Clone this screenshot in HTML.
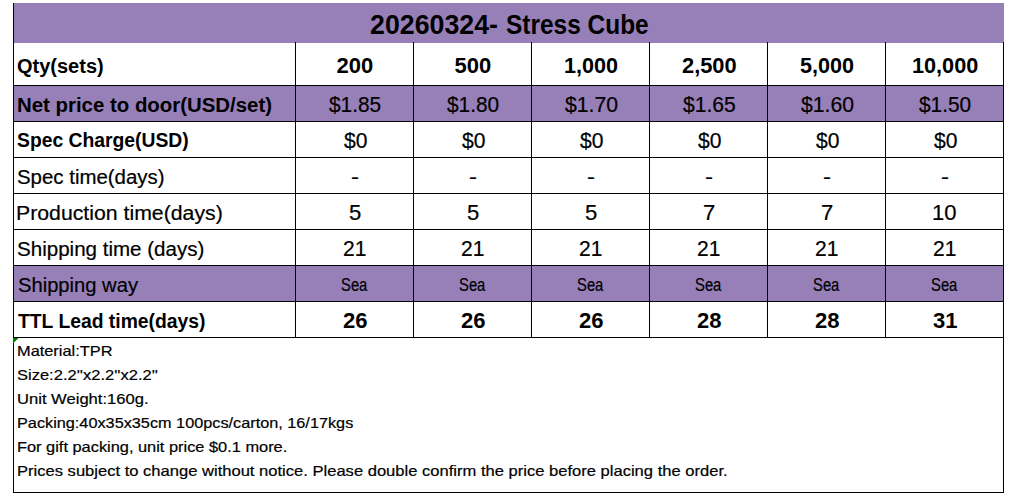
<!DOCTYPE html>
<html><head><meta charset="utf-8"><style>
html,body{margin:0;padding:0;background:#fff;width:1009px;height:497px;overflow:hidden;position:relative}
div{position:absolute}
.t{font-family:"Liberation Sans",sans-serif;color:#000;white-space:pre}
.r{-webkit-text-stroke:0.2px #000}
</style></head><body>
<div style="left:13px;top:3px;width:991px;height:40px;background:#977fb8"></div>
<div style="left:13px;top:86px;width:991px;height:35px;background:#977fb8"></div>
<div style="left:13px;top:266px;width:991px;height:35px;background:#977fb8"></div>
<div style="left:13px;top:85px;width:991px;height:1px;background:#000"></div>
<div style="left:13px;top:121px;width:991px;height:1px;background:#000"></div>
<div style="left:13px;top:157px;width:991px;height:1px;background:#000"></div>
<div style="left:13px;top:193px;width:991px;height:1px;background:#000"></div>
<div style="left:13px;top:229px;width:991px;height:1px;background:#000"></div>
<div style="left:13px;top:265px;width:991px;height:1px;background:#000"></div>
<div style="left:13px;top:301px;width:991px;height:1px;background:#000"></div>
<div style="left:13px;top:337px;width:991px;height:1px;background:#000"></div>
<div style="left:13px;top:492px;width:991px;height:1px;background:#000"></div>
<div style="left:13px;top:3px;width:1px;height:490px;background:#000"></div>
<div style="left:1003px;top:42px;width:1px;height:451px;background:#000"></div>
<div style="left:295px;top:42px;width:1px;height:296px;background:#000"></div>
<div style="left:413px;top:42px;width:1px;height:296px;background:#000"></div>
<div style="left:531px;top:42px;width:1px;height:296px;background:#000"></div>
<div style="left:649px;top:42px;width:1px;height:296px;background:#000"></div>
<div style="left:767px;top:42px;width:1px;height:296px;background:#000"></div>
<div style="left:885px;top:42px;width:1px;height:296px;background:#000"></div>
<div class="t" style="left:370.00px;top:12.14px;font-size:27px;line-height:27px;font-weight:700;transform:scaleX(0.9907);transform-origin:0 0;">20260324-</div>
<div class="t" style="left:505.53px;top:12.14px;font-size:27px;line-height:27px;font-weight:700;transform:scaleX(0.9057);transform-origin:0 0;">Stress Cube</div>
<div class="t" style="left:17.00px;top:55.97px;font-size:20px;line-height:20px;font-weight:700;">Qty(sets)</div>
<div class="t" style="left:16.98px;top:94.97px;font-size:20px;line-height:20px;font-weight:700;transform:scaleX(1.0201);transform-origin:0 0;">Net price to door(USD/set)</div>
<div class="t" style="left:16.52px;top:129.97px;font-size:20px;line-height:20px;font-weight:700;transform:scaleX(0.9659);transform-origin:0 0;">Spec Charge(USD)</div>
<div class="t r" style="left:16.98px;top:166.97px;font-size:20px;line-height:20px;font-weight:400;transform:scaleX(1.0211);transform-origin:0 0;">Spec time(days)</div>
<div class="t r" style="left:15.87px;top:202.97px;font-size:20px;line-height:20px;font-weight:400;transform:scaleX(1.0628);transform-origin:0 0;">Production time(days)</div>
<div class="t r" style="left:16.97px;top:238.97px;font-size:20px;line-height:20px;font-weight:400;transform:scaleX(1.0278);transform-origin:0 0;">Shipping time (days)</div>
<div class="t r" style="left:18.00px;top:274.97px;font-size:20px;line-height:20px;font-weight:400;transform:scaleX(1.0084);transform-origin:0 0;">Shipping way</div>
<div class="t" style="left:18.00px;top:310.97px;font-size:20px;line-height:20px;font-weight:700;transform:scaleX(0.9658);transform-origin:0 0;">TTL Lead time(days)</div>
<div class="t" style="left:336.50px;top:54.88px;font-size:22px;line-height:22px;font-weight:700;">200</div>
<div class="t" style="left:454.50px;top:54.88px;font-size:22px;line-height:22px;font-weight:700;">500</div>
<div class="t" style="left:564.02px;top:54.88px;font-size:22px;line-height:22px;font-weight:700;transform:scaleX(0.9811);transform-origin:0 0;">1,000</div>
<div class="t" style="left:681.99px;top:54.88px;font-size:22px;line-height:22px;font-weight:700;transform:scaleX(0.9929);transform-origin:0 0;">2,500</div>
<div class="t" style="left:800.02px;top:54.88px;font-size:22px;line-height:22px;font-weight:700;transform:scaleX(0.9811);transform-origin:0 0;">5,000</div>
<div class="t" style="left:912.02px;top:54.88px;font-size:22px;line-height:22px;font-weight:700;transform:scaleX(0.9846);transform-origin:0 0;">10,000</div>
<div class="t r" style="left:328.93px;top:93.88px;font-size:22px;line-height:22px;font-weight:400;transform:scaleX(0.9468);transform-origin:0 0;">$1.85</div>
<div class="t r" style="left:446.93px;top:93.88px;font-size:22px;line-height:22px;font-weight:400;transform:scaleX(0.9468);transform-origin:0 0;">$1.80</div>
<div class="t r" style="left:564.73px;top:93.88px;font-size:22px;line-height:22px;font-weight:400;transform:scaleX(0.9638);transform-origin:0 0;">$1.70</div>
<div class="t r" style="left:682.97px;top:93.88px;font-size:22px;line-height:22px;font-weight:400;transform:scaleX(0.9578);transform-origin:0 0;">$1.65</div>
<div class="t r" style="left:800.73px;top:93.88px;font-size:22px;line-height:22px;font-weight:400;transform:scaleX(0.9638);transform-origin:0 0;">$1.60</div>
<div class="t r" style="left:918.93px;top:93.88px;font-size:22px;line-height:22px;font-weight:400;transform:scaleX(0.9468);transform-origin:0 0;">$1.50</div>
<div class="t r" style="left:343.50px;top:129.88px;font-size:22px;line-height:22px;font-weight:400;transform:scaleX(0.9583);transform-origin:0 0;">$0</div>
<div class="t r" style="left:461.50px;top:129.88px;font-size:22px;line-height:22px;font-weight:400;transform:scaleX(0.9583);transform-origin:0 0;">$0</div>
<div class="t r" style="left:579.50px;top:129.88px;font-size:22px;line-height:22px;font-weight:400;transform:scaleX(0.9583);transform-origin:0 0;">$0</div>
<div class="t r" style="left:697.50px;top:129.88px;font-size:22px;line-height:22px;font-weight:400;transform:scaleX(0.9583);transform-origin:0 0;">$0</div>
<div class="t r" style="left:815.50px;top:129.88px;font-size:22px;line-height:22px;font-weight:400;transform:scaleX(0.9583);transform-origin:0 0;">$0</div>
<div class="t r" style="left:933.50px;top:129.88px;font-size:22px;line-height:22px;font-weight:400;transform:scaleX(0.9583);transform-origin:0 0;">$0</div>
<div class="t r" style="left:350.76px;top:166.57px;font-size:20px;line-height:20px;font-weight:400;transform:scaleX(1.2000);transform-origin:0 0;">-</div>
<div class="t r" style="left:468.76px;top:166.57px;font-size:20px;line-height:20px;font-weight:400;transform:scaleX(1.2000);transform-origin:0 0;">-</div>
<div class="t r" style="left:586.76px;top:166.57px;font-size:20px;line-height:20px;font-weight:400;transform:scaleX(1.2000);transform-origin:0 0;">-</div>
<div class="t r" style="left:704.76px;top:166.57px;font-size:20px;line-height:20px;font-weight:400;transform:scaleX(1.2000);transform-origin:0 0;">-</div>
<div class="t r" style="left:822.76px;top:166.57px;font-size:20px;line-height:20px;font-weight:400;transform:scaleX(1.2000);transform-origin:0 0;">-</div>
<div class="t r" style="left:940.76px;top:166.57px;font-size:20px;line-height:20px;font-weight:400;transform:scaleX(1.2000);transform-origin:0 0;">-</div>
<div class="t r" style="left:348.70px;top:201.88px;font-size:22px;line-height:22px;font-weight:400;transform:scaleX(1.0046);transform-origin:0 0;">5</div>
<div class="t r" style="left:466.70px;top:201.88px;font-size:22px;line-height:22px;font-weight:400;transform:scaleX(1.0046);transform-origin:0 0;">5</div>
<div class="t r" style="left:584.70px;top:201.88px;font-size:22px;line-height:22px;font-weight:400;transform:scaleX(1.0046);transform-origin:0 0;">5</div>
<div class="t r" style="left:702.69px;top:201.88px;font-size:22px;line-height:22px;font-weight:400;transform:scaleX(1.0046);transform-origin:0 0;">7</div>
<div class="t r" style="left:820.69px;top:201.88px;font-size:22px;line-height:22px;font-weight:400;transform:scaleX(1.0046);transform-origin:0 0;">7</div>
<div class="t r" style="left:931.94px;top:201.88px;font-size:22px;line-height:22px;font-weight:400;transform:scaleX(1.0021);transform-origin:0 0;">10</div>
<div class="t r" style="left:343.03px;top:237.88px;font-size:22px;line-height:22px;font-weight:400;transform:scaleX(0.9565);transform-origin:0 0;">21</div>
<div class="t r" style="left:461.03px;top:237.88px;font-size:22px;line-height:22px;font-weight:400;transform:scaleX(0.9565);transform-origin:0 0;">21</div>
<div class="t r" style="left:579.03px;top:237.88px;font-size:22px;line-height:22px;font-weight:400;transform:scaleX(0.9565);transform-origin:0 0;">21</div>
<div class="t r" style="left:697.03px;top:237.88px;font-size:22px;line-height:22px;font-weight:400;transform:scaleX(0.9565);transform-origin:0 0;">21</div>
<div class="t r" style="left:815.03px;top:237.88px;font-size:22px;line-height:22px;font-weight:400;transform:scaleX(0.9565);transform-origin:0 0;">21</div>
<div class="t r" style="left:933.03px;top:237.88px;font-size:22px;line-height:22px;font-weight:400;transform:scaleX(0.9565);transform-origin:0 0;">21</div>
<div class="t r" style="left:340.85px;top:276.89px;font-size:17.5px;line-height:17.5px;font-weight:400;transform:scaleX(0.8465);transform-origin:0 0;">Sea</div>
<div class="t r" style="left:458.85px;top:276.89px;font-size:17.5px;line-height:17.5px;font-weight:400;transform:scaleX(0.8465);transform-origin:0 0;">Sea</div>
<div class="t r" style="left:576.85px;top:276.89px;font-size:17.5px;line-height:17.5px;font-weight:400;transform:scaleX(0.8465);transform-origin:0 0;">Sea</div>
<div class="t r" style="left:694.85px;top:276.89px;font-size:17.5px;line-height:17.5px;font-weight:400;transform:scaleX(0.8465);transform-origin:0 0;">Sea</div>
<div class="t r" style="left:812.85px;top:276.89px;font-size:17.5px;line-height:17.5px;font-weight:400;transform:scaleX(0.8465);transform-origin:0 0;">Sea</div>
<div class="t r" style="left:930.85px;top:276.89px;font-size:17.5px;line-height:17.5px;font-weight:400;transform:scaleX(0.8465);transform-origin:0 0;">Sea</div>
<div class="t" style="left:342.75px;top:309.88px;font-size:22px;line-height:22px;font-weight:700;transform:scaleX(1.0010);transform-origin:0 0;">26</div>
<div class="t" style="left:460.75px;top:309.88px;font-size:22px;line-height:22px;font-weight:700;transform:scaleX(1.0010);transform-origin:0 0;">26</div>
<div class="t" style="left:578.75px;top:309.88px;font-size:22px;line-height:22px;font-weight:700;transform:scaleX(1.0010);transform-origin:0 0;">26</div>
<div class="t" style="left:696.75px;top:309.88px;font-size:22px;line-height:22px;font-weight:700;transform:scaleX(1.0010);transform-origin:0 0;">28</div>
<div class="t" style="left:814.75px;top:309.88px;font-size:22px;line-height:22px;font-weight:700;transform:scaleX(1.0010);transform-origin:0 0;">28</div>
<div class="t" style="left:932.75px;top:309.88px;font-size:22px;line-height:22px;font-weight:700;transform:scaleX(1.0010);transform-origin:0 0;">31</div>
<div class="t r" style="left:16.91px;top:342.60px;font-size:15px;line-height:15px;font-weight:400;transform:scaleX(1.0907);transform-origin:0 0;">Material:TPR</div>
<div class="t r" style="left:16.90px;top:366.60px;font-size:15px;line-height:15px;font-weight:400;transform:scaleX(1.1008);transform-origin:0 0;">Size:2.2''x2.2''x2.2''</div>
<div class="t r" style="left:16.89px;top:390.60px;font-size:15px;line-height:15px;font-weight:400;transform:scaleX(1.1060);transform-origin:0 0;">Unit Weight:160g.</div>
<div class="t r" style="left:16.92px;top:414.60px;font-size:15px;line-height:15px;font-weight:400;transform:scaleX(1.0841);transform-origin:0 0;">Packing:40x35x35cm 100pcs/carton, 16/17kgs</div>
<div class="t r" style="left:16.91px;top:438.60px;font-size:15px;line-height:15px;font-weight:400;transform:scaleX(1.0914);transform-origin:0 0;">For gift packing, unit price $0.1 more.</div>
<div class="t r" style="left:16.90px;top:462.60px;font-size:15px;line-height:15px;font-weight:400;transform:scaleX(1.1039);transform-origin:0 0;">Prices subject to change without notice. Please double confirm the price before placing the order.</div>
<svg style="position:absolute;left:13px;top:338px" width="7" height="7"><path d="M0 0H5.6L0 5.6Z" fill="#008000"/></svg>
</body></html>
